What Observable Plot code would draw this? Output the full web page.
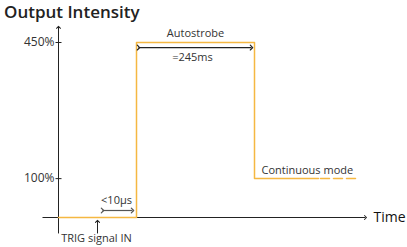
<!DOCTYPE html>
<html>
<head>
<meta charset="utf-8">
<script src="https://cdn.jsdelivr.net/npm/d3@7"></script>
<script src="https://cdn.jsdelivr.net/npm/@observablehq/plot@0.6"></script>
<style>
  html, body { margin: 0; padding: 0; background: #fff; }
  #title { font-family: "Open Sans", sans-serif; font-weight: 600; font-size: 17px; line-height: 24px; height: 24px; padding-left: 4px; color: #222; white-space: nowrap; }
</style>
</head>
<body>
<div id="title">Output Intensity</div>
<div id="chart"></div>
<script>
// Signal (schematic time units, intensity in %)
const signalTime = [0, 78, 78, 196, 196, 260];
const signalPct  = [0, 0, 450, 450, 100, 100];
const contTime   = [262, 297];
const contPct    = [100, 100];
const yTicks     = [100, 450];
const yTickLabels = ["100%", "450%"];

const signal = signalTime.map((t, i) => ({t, v: signalPct[i]}));
const cont = contTime.map((t, i) => ({t, v: contPct[i]}));
const ticks = yTicks.map((v, i) => ({v, label: yTickLabels[i]}));

// annotations (data coordinates)
const centeredNotes = [
  {t: 137, v: 473, text: "Autostrobe"},
  {t: 134, v: 411, text: "=245ms"},
  {t: 58, v: 44, text: "<10µs"},
  {t: 38, v: -54, text: "TRIG signal IN"}
];
const leftNotes = [
  {t: 203, v: 122, text: "Continuous mode"}
];

const ink = "#222";
const orange = "#f5b842";

const plot = Plot.plot({
  width: 407,
  height: 223,
  x: {type: "linear", domain: [0, 349], range: [58, 407], axis: null},
  y: {type: "linear", domain: [0, 450], range: [193, 18], axis: null},
  style: {fontFamily: "'Open Sans', sans-serif", fontSize: "11px", color: "#333", background: "#fff", overflow: "visible"},
  marks: [
    // x axis
    Plot.link([0], {x1: () => -16, y1: () => 0, x2: () => 307, y2: () => 0, stroke: ink, strokeWidth: 1, markerEnd: "arrow"}),
    // y axis
    Plot.link([0], {x1: () => 0, y1: () => -41, x2: () => 0, y2: () => 489, stroke: ink, strokeWidth: 1, markerEnd: "arrow"}),
    // y ticks
    Plot.link(ticks, {x1: () => -3, x2: () => 3, y1: "v", y2: "v", stroke: ink}),
    Plot.text(ticks, {x: () => -4, y: "v", text: "label", textAnchor: "end", fontSize: 12, fill: "#333"}),
    // signal
    Plot.line(signal, {x: "t", y: "v", stroke: orange, strokeWidth: 1.5}),
    Plot.line(cont, {x: "t", y: "v", stroke: orange, strokeWidth: 1.5, strokeDasharray: "9,4"}),
    // duration arrows
    Plot.link([0], {x1: () => 80, y1: () => 437, x2: () => 193, y2: () => 437, stroke: ink, strokeWidth: 1.2, markerStart: "arrow", markerEnd: "arrow"}),
    Plot.link([0], {x1: () => 44, y1: () => 18, x2: () => 74, y2: () => 18, stroke: "#555", strokeWidth: 1.2, markerStart: "arrow", markerEnd: "arrow"}),
    Plot.link([0], {x1: () => 39, y1: () => -41, x2: () => 39, y2: () => -10, stroke: ink, strokeWidth: 1, markerEnd: "arrow"}),
    // annotations
    Plot.text(centeredNotes, {x: "t", y: "v", text: "text", textAnchor: "middle", fill: "#333"}),
    Plot.text(leftNotes, {x: "t", y: "v", text: "text", textAnchor: "start", fill: "#333"}),
    Plot.text(["Time"], {x: () => 315, y: () => 0, text: d => d, textAnchor: "start", fontSize: 14, fill: "#111"})
  ]
});
document.getElementById("chart").appendChild(plot);
</script>
</body>
</html>
